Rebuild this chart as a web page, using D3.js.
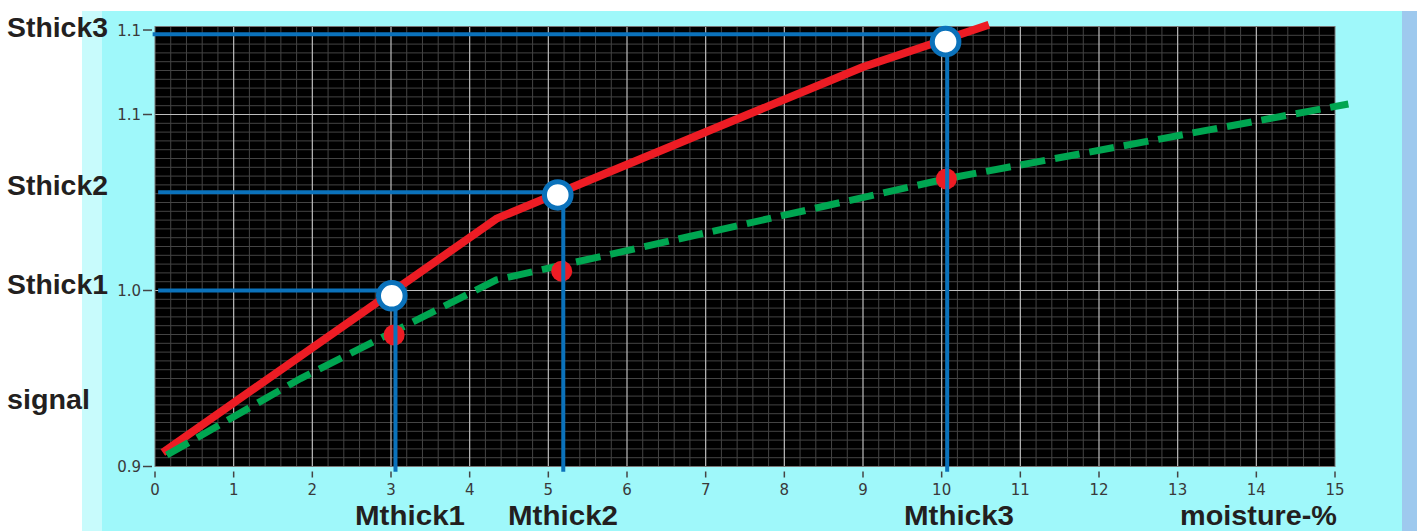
<!DOCTYPE html>
<html>
<head>
<meta charset="utf-8">
<script src="https://cdn.jsdelivr.net/npm/d3@7"></script>
<style>
  body { margin: 0; padding: 0; background: #fff; overflow: hidden; }
</style>
</head>
<body>
<script>
// moisture vs signal calibration chart, two curves + reading markers
const xTicks = d3.range(0, 16);
const yTickValues = [0.9, 1.0, 1.1, 1.148];
const yTickLabels = ["0.9", "1.0", "1.1", "1.1"];

// [moisture-%, signal]
const redCurve = [[0.1, 0.908], [4.35, 1.041], [9.0, 1.127], [10.6, 1.151]];
const greenCurve = [[0.15, 0.9065], [1.85, 0.950], [4.34, 1.006], [10.06, 1.0635], [15.17, 1.106]];

const openPoints = [[3.01, 0.997], [5.12, 1.0543], [10.05, 1.1414]];
const redDots = [[3.04, 0.9747], [5.17, 1.011], [10.06, 1.0634]];

const sthickNames = ["Sthick1", "Sthick2", "Sthick3"];
const sthickLevels = [1.0, 1.0558, 1.1456];
const sthickStart = [0.04, 0.04, -0.03];
const mthickNames = ["Mthick1", "Mthick2", "Mthick3"];
const mthickValues = [3.057, 5.19, 10.07];
const mthickBottom = 0.897;

const W = 1417, H = 531;

const svg = d3.select("body").append("svg")
  .attr("width", W)
  .attr("height", H);

// panel background
svg.append("rect").attr("x", 82).attr("y", 11).attr("width", 1320).attr("height", H - 11).attr("fill", "#9ff8fa");
svg.append("rect").attr("x", 82).attr("y", 11).attr("width", 20).attr("height", H - 11).attr("fill", "#c8fbfc");
svg.append("rect").attr("x", 1402).attr("y", 11).attr("width", 15).attr("height", H - 11).attr("fill", "#9ec9ee");

const x = d3.scaleLinear().domain([0, 15]).range([155, 1335]);
const y = d3.scaleLinear().domain([0.9, 1.15]).range([466.5, 26.5]);

// plot area
svg.append("rect")
  .attr("x", x(0)).attr("y", y(1.15))
  .attr("width", x(15) - x(0)).attr("height", y(0.9) - y(1.15))
  .attr("fill", "#000");

const grid = svg.append("g");
const minorX = d3.range(0, 75).map(i => i * 0.2).filter((d, i) => i % 5 !== 0);
const minorY = d3.range(1, 50).map(i => 0.9 + i * 0.005).filter((d, i) => (i + 1) % 20 !== 0);

grid.selectAll("line.mx").data(minorX).join("line")
  .attr("x1", d => x(d)).attr("x2", d => x(d))
  .attr("y1", y(1.15)).attr("y2", y(0.9))
  .attr("stroke", "#444").attr("stroke-width", 1);
grid.selectAll("line.my").data(minorY).join("line")
  .attr("x1", x(0)).attr("x2", x(15))
  .attr("y1", d => y(d)).attr("y2", d => y(d))
  .attr("stroke", "#444").attr("stroke-width", 1);
grid.selectAll("line.MX").data(xTicks.slice(1, -1)).join("line")
  .attr("x1", d => x(d)).attr("x2", d => x(d))
  .attr("y1", y(1.15)).attr("y2", y(0.9))
  .attr("stroke", "#bdbdbd").attr("stroke-width", 1.2);
grid.selectAll("line.MY").data([1.0, 1.1]).join("line")
  .attr("x1", x(0)).attr("x2", x(15))
  .attr("y1", d => y(d)).attr("y2", d => y(d))
  .attr("stroke", "#bdbdbd").attr("stroke-width", 1.2);

svg.append("rect")
  .attr("x", x(0)).attr("y", y(1.15))
  .attr("width", x(15) - x(0)).attr("height", y(0.9) - y(1.15))
  .attr("fill", "none").attr("stroke", "#777").attr("stroke-width", 1);

// axes
const xAxis = svg.append("g");
xAxis.selectAll("line").data(xTicks).join("line")
  .attr("x1", d => x(d)).attr("x2", d => x(d))
  .attr("y1", y(0.9) + 5).attr("y2", y(0.9) + 11)
  .attr("stroke", "#444").attr("stroke-width", 1.5);
xAxis.selectAll("text").data(xTicks).join("text")
  .attr("x", d => x(d)).attr("y", y(0.9) + 24)
  .attr("text-anchor", "middle").attr("dominant-baseline", "middle")
  .attr("font-family", "DejaVu Sans").attr("font-size", "15px")
  .attr("fill", "#3a3a3a")
  .text(d => d);

const yAxis = svg.append("g");
yAxis.selectAll("line").data(yTickValues).join("line")
  .attr("x1", x(0) - 12).attr("x2", x(0) - 3)
  .attr("y1", d => y(d)).attr("y2", d => y(d))
  .attr("stroke", "#444").attr("stroke-width", 1.5);
yAxis.selectAll("text").data(yTickValues).join("text")
  .attr("x", x(0) - 14).attr("y", d => y(d) + 1)
  .attr("text-anchor", "end").attr("dominant-baseline", "middle")
  .attr("font-family", "DejaVu Sans").attr("font-size", "15px")
  .attr("fill", "#3a3a3a")
  .text((d, i) => yTickLabels[i]);

const line = d3.line().x(d => x(d[0])).y(d => y(d[1]));

svg.append("path")
  .datum(redCurve)
  .attr("d", line)
  .attr("fill", "none")
  .attr("stroke", "#ed1c24")
  .attr("stroke-width", 8)
  .attr("stroke-linejoin", "round");

svg.append("path")
  .datum(greenCurve)
  .attr("d", line)
  .attr("fill", "none")
  .attr("stroke", "#00a651")
  .attr("stroke-width", 7)
  .attr("stroke-dasharray", "25,10");

svg.selectAll("circle.rd").data(redDots).join("circle")
  .attr("cx", d => x(d[0])).attr("cy", d => y(d[1]))
  .attr("r", 10.5)
  .attr("fill", "#ed1c24");

// reading lines
const blue = "#0b72bb";
svg.selectAll("line.sth").data(sthickLevels).join("line")
  .attr("x1", (d, i) => x(sthickStart[i]))
  .attr("x2", (d, i) => x(openPoints[i][0]))
  .attr("y1", d => y(d)).attr("y2", d => y(d))
  .attr("stroke", blue).attr("stroke-width", 4);
svg.selectAll("line.mth").data(mthickValues).join("line")
  .attr("x1", d => x(d)).attr("x2", d => x(d))
  .attr("y1", (d, i) => y(openPoints[i][1]))
  .attr("y2", y(mthickBottom))
  .attr("stroke", blue).attr("stroke-width", 4);

svg.selectAll("circle.op").data(openPoints).join("circle")
  .attr("cx", d => x(d[0])).attr("cy", d => y(d[1]))
  .attr("r", 13.3)
  .attr("fill", "#fff")
  .attr("stroke", blue).attr("stroke-width", 5);

// annotation labels
const labelFont = "Liberation Sans";
const labelColor = "#231f20";
function label(sel) {
  return sel.attr("font-family", labelFont).attr("font-weight", "bold")
    .attr("font-size", "28px").attr("fill", labelColor)
    .attr("lengthAdjust", "spacingAndGlyphs");
}

svg.selectAll("text.sth").data(sthickLevels).join("text")
  .attr("x", 7).attr("y", d => y(d) + 3)
  .call(label)
  .attr("textLength", 101)
  .text((d, i) => sthickNames[i]);

svg.append("text")
  .attr("x", 7).attr("y", 409)
  .call(label)
  .attr("textLength", 83)
  .text("signal");

const mthickLabelX = [355, 508, 904];
svg.selectAll("text.mth").data(mthickNames).join("text")
  .attr("x", (d, i) => mthickLabelX[i]).attr("y", 525)
  .call(label)
  .attr("textLength", 110)
  .text(d => d);

svg.append("text")
  .attr("x", 1180).attr("y", 525)
  .call(label)
  .attr("textLength", 157)
  .text("moisture-%");
</script>
</body>
</html>
